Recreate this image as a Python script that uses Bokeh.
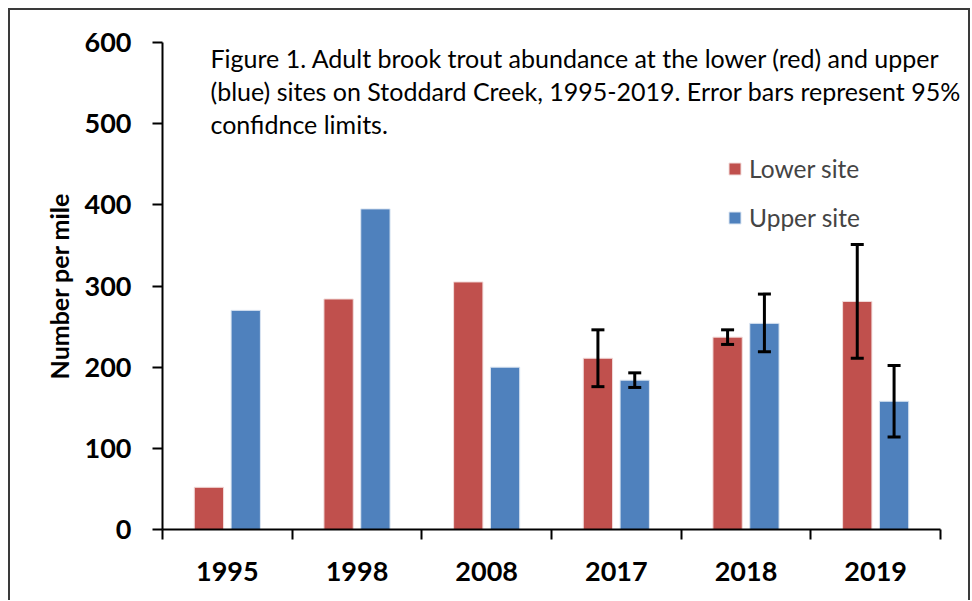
from bokeh.plotting import figure
from bokeh.models import (ColumnDataSource, Range1d, FixedTicker, Legend, LegendItem,
                          Whisker, TeeHead, Label)
from bokeh.embed import file_html
from bokeh.resources import INLINE

# ---- data ----
years = ["1995", "1998", "2008", "2017", "2018", "2019"]
lower_site = [52, 284, 305, 211, 237, 281]
upper_site = [270, 395, 200, 184, 254, 158]
# 95% confidence limits (only for the last three years)
ci_years = ["2017", "2018", "2019"]
lower_ci_low = [176, 228, 211]
lower_ci_high = [246, 246, 351]
upper_ci_low = [175, 219, 114]
upper_ci_high = [193, 290, 202]
y_ticks = [0, 100, 200, 300, 400, 500, 600]
title_lines = [
    "Figure 1. Adult brook trout abundance at the lower (red) and upper",
    "(blue) sites on Stoddard Creek, 1995-2019. Error bars represent 95%",
    "confidnce limits.",
]

RED = "#C0504D"
BLUE = "#4F81BD"
FONT = "Lato"
BORDER = "#3a3a3a"

W, H = 971, 600
AX_LEFT, AX_RIGHT, FRAME_RIGHT = 162, 940, 965   # pixel layout of the plot area
n = len(years)
x_end = n * (FRAME_RIGHT - AX_LEFT) / (AX_RIGHT - AX_LEFT)  # room for caption overflow

grad = f"linear-gradient({BORDER},{BORDER})"
p = figure(width=W, height=H, output_backend="svg", toolbar_location=None,
           x_range=Range1d(0, x_end), y_range=Range1d(0, 600),
           min_border_left=AX_LEFT, min_border_right=W - FRAME_RIGHT, min_border_top=42,
           min_border_bottom=H - 529)
p.styles = {
    "background-color": "white",
    "background-image": f"{grad}, {grad}, {grad}",
    "background-size": "2px 600px, 962px 2px, 2px 600px",
    "background-position": "8px 8px, 8px 8px, 968px 8px",
    "background-repeat": "no-repeat",
}
p.grid.visible = False
p.outline_line_color = None
p.background_fill_color = "white"
p.border_fill_alpha = 0

centers = [i + 0.5 for i in range(n)]
off = 0.142
bw = 0.226
src = ColumnDataSource(dict(
    xl=[c - off for c in centers], xu=[c + off for c in centers],
    lower=lower_site, upper=upper_site))
r_low = p.vbar(x="xl", top="lower", width=bw, source=src, fill_color=RED,
               line_color="#F2DCDB", line_width=1)
r_up = p.vbar(x="xu", top="upper", width=bw, source=src, fill_color=BLUE,
              line_color="#DCE6F2", line_width=1)

ci_pos = [years.index(y) + 0.5 for y in ci_years]
esrc = ColumnDataSource(dict(
    xl=[c - off for c in ci_pos], xu=[c + off for c in ci_pos],
    ll=lower_ci_low, lh=lower_ci_high, ul=upper_ci_low, uh=upper_ci_high))
for base, lo, hi in (("xl", "ll", "lh"), ("xu", "ul", "uh")):
    w = Whisker(base=base, lower=lo, upper=hi, source=esrc, line_width=3, line_color="black",
                level="overlay",
                upper_head=TeeHead(size=13, line_width=3, line_color="black"),
                lower_head=TeeHead(size=13, line_width=3, line_color="black"))
    p.add_layout(w)

# axes
xa = p.xaxis[0]
xa.bounds = (0, n)
xa.ticker = FixedTicker(ticks=centers, minor_ticks=list(range(n + 1)))
xa.major_label_overrides = {c: y for c, y in zip(centers, years)}
xa.major_tick_out = 0
xa.major_tick_in = 0
xa.minor_tick_out = 10
xa.minor_tick_in = 0
xa.minor_tick_line_width = 2
xa.minor_tick_line_color = "black"
xa.major_label_text_font_size = "27px"
xa.major_label_standoff = 22

ya = p.yaxis[0]
ya.ticker = FixedTicker(ticks=y_ticks, minor_ticks=[])
ya.major_tick_out = 10
ya.major_tick_in = 0
ya.major_tick_line_width = 2
ya.minor_tick_line_color = None
ya.major_label_text_font_size = "27px"
ya.major_label_standoff = 21
ya.axis_label = "Number per mile"
ya.axis_label_text_font = FONT
ya.axis_label_text_font_style = "bold"
ya.axis_label_text_font_size = "25px"
ya.axis_label_standoff = 8
ya.axis_label_text_color = "black"
for a in (xa, ya):
    a.axis_line_width = 2
    a.axis_line_color = "black"
    a.major_tick_line_color = "black"
    a.major_label_text_font = FONT
    a.major_label_text_font_style = "bold"
    a.major_label_text_color = "black"

# caption text
tx = 0.37
ty = [580.5, 540.5, 500.0]
for line, yy in zip(title_lines, ty):
    p.add_layout(Label(x=tx, y=yy, text=line, text_font=FONT, text_font_size="25px",
                       text_baseline="middle", text_align="left", text_color="black"))

legend = Legend(items=[LegendItem(label="Lower site", renderers=[r_low]),
                       LegendItem(label="Upper site", renderers=[r_up])],
                location=(565, 297), orientation="vertical",
                glyph_width=15, glyph_height=15, label_text_font=FONT,
                label_text_font_size="24.5px", label_standoff=7, spacing=20,
                padding=0, margin=0, border_line_color=None, background_fill_alpha=0)
p.add_layout(legend, "center")

open("out.html", "w").write(file_html(p, INLINE))
